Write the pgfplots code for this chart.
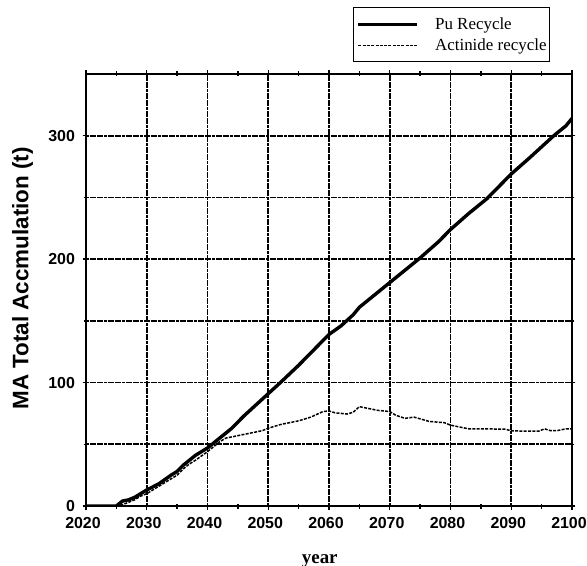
\documentclass[border=0pt]{standalone}
\usepackage{fontspec}
\setmainfont{Liberation Serif}
\setsansfont{Liberation Sans}
\usepackage{pgfplots}
\pgfplotsset{compat=1.18}
\usepackage{pgfplotstable}

% MA accumulation, Pu recycle scenario (year, tonnes)
\pgfplotstableread{
year  ma
2020  0
2025  0
2025.5 2
2026  4
2027  5
2028  7
2029  10
2030  13
2032  18
2034  25
2035  28
2036  33
2037  37
2038  41
2040  47
2042  55
2044  63
2045  68
2046  73
2048  82
2050  91
2052  100
2055  114
2058  129
2060  139
2062  146
2064  155
2065  161
2066  165
2068  173
2070  181
2072  189
2075  201
2078  214
2080  224
2083  237
2086  249
2088  259
2090  269
2093  282
2095  291
2097  300
2099  308
2100  314
}\puRecycle

% MA accumulation, actinide recycle scenario (year, tonnes)
\pgfplotstableread{
year  ma
2020  0
2025  0
2026  1
2027  3
2028  5
2029  8
2030  10
2032  16
2034  22
2035  25
2036  30
2037  34
2038  37
2040  44
2041  48
2042  52
2043  55
2045  57
2047  59
2049  61
2050  63
2052  66
2053  67
2055  69
2057  72
2059  76.5
2060  77
2061  75.5
2063  74.5
2064  76
2065  80.5
2066  79.5
2068  77.5
2070  76.5
2071  73.5
2072.5 71
2074  72
2076.5 68.5
2079  67.5
2080  65.5
2081  64.5
2083  62.5
2086  62.5
2089  62.2
2090  61
2092  60.6
2094.5 60.6
2095.5 62.5
2096.5 61
2097.5 61
2099  62.5
2100  62.5
}\actRecycle

\begin{document}
\begin{tikzpicture}
\begin{axis}[
  name=ax,
  scale only axis,
  width=486bp, height=432bp,
  xmin=2020, xmax=2100,
  ymin=0, ymax=350,
  xtick={2020,2030,...,2100},
  minor xtick={2025,2035,...,2095},
  ytick={0,100,200,300},
  minor ytick={50,150,250},
  xmajorgrids, ymajorgrids, yminorgrids,
  grid style={black, line width=1.7bp, dash pattern=on 3bp off 0.6bp},
  minor grid style={black, line width=1.7bp, dash pattern=on 3bp off 0.6bp},
  axis line style={line width=2.4bp},
  tick align=center,
  major tick length=7bp,
  minor tick length=5bp,
  every tick/.style={black, line width=1.4bp},
  /pgf/number format/assume math mode=true,
  tick label style={font=\sffamily\bfseries\fontsize{16}{19}\selectfont},
  x tick label style={/pgf/number format/1000 sep={}, yshift=-4bp, xshift=-3bp},
  y tick label style={xshift=-4bp},
  xlabel={year},
  xlabel style={font=\bfseries\fontsize{19}{22}\selectfont,
    at={(rel axis cs:0.481,-0.132)}, anchor=base},
  ylabel={MA Total Accmulation (t)},
  ylabel style={font=\sffamily\bfseries\fontsize{22.5}{26}\selectfont,
    at={(rel axis cs:-0.1307,0.527)}, anchor=center},
  legend cell align=left,
  legend image code/.code={\draw[#1] (0bp,0bp) -- (59bp,0bp);},
  legend style={
    at={(rel axis cs:0.9547,1.154)}, anchor=north east,
    draw=black, line width=0.9bp,
    font=\fontsize{17}{20}\selectfont,
    nodes={inner sep=0pt},
    column sep=16bp, row sep=7.5bp,
    inner xsep=3bp, inner ysep=10bp,
  },
]
\addplot[black, line width=3.4bp, line join=round] table[x=year, y=ma] {\puRecycle};
\addlegendentry{Pu Recycle}
\addplot[black, line width=1.5bp, dash pattern=on 3bp off 1.3bp] table[x=year, y=ma] {\actRecycle};
\addlegendentry{Actinide recycle}
\end{axis}
\pgfresetboundingbox
\path (ax.south west) ++(-86bp,-60bp) rectangle ++(587bp,566bp);
\end{tikzpicture}
\end{document}
